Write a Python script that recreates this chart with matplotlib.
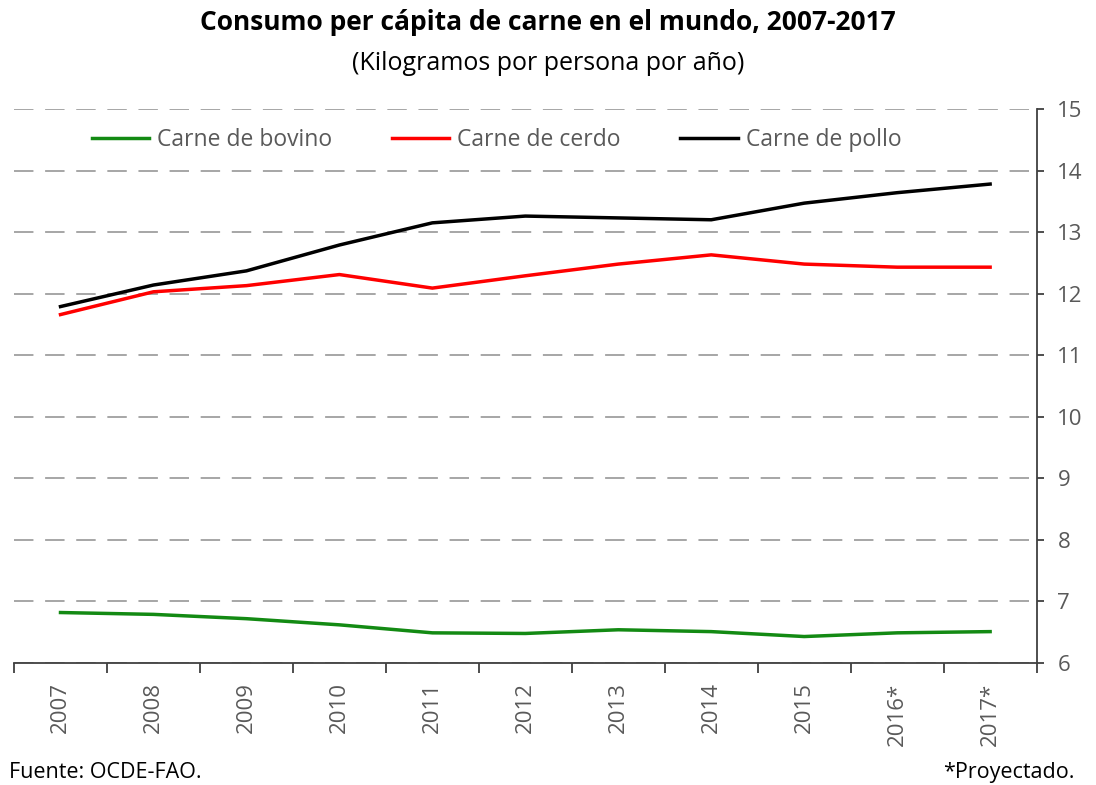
import matplotlib.pyplot as plt
import numpy as np

plt.rcParams['font.family'] = ['Open Sans', 'DejaVu Sans']

years = ['2007', '2008', '2009', '2010', '2011', '2012', '2013', '2014', '2015', '2016*', '2017*']
bovino = [6.82, 6.79, 6.72, 6.62, 6.49, 6.48, 6.54, 6.51, 6.43, 6.49, 6.51]
cerdo = [11.66, 12.03, 12.13, 12.31, 12.09, 12.29, 12.48, 12.63, 12.48, 12.43, 12.43]
pollo = [11.79, 12.14, 12.37, 12.79, 13.15, 13.26, 13.23, 13.20, 13.47, 13.64, 13.78]

TEXT_GRAY = '#595959'
GRID_GRAY = '#a6a6a6'

fig = plt.figure(figsize=(10.96, 7.85), dpi=100, facecolor='white')
ax = fig.add_axes([0.0128, 0.1554, 0.933, 0.7058])

x = np.arange(len(years))
ax.plot(x, bovino, color='#138a13', linewidth=2.5, label='Carne de bovino')
ax.plot(x, cerdo, color='#ff0000', linewidth=2.5, label='Carne de cerdo')
ax.plot(x, pollo, color='black', linewidth=2.5, label='Carne de pollo')

ax.set_xlim(-0.5, len(years) - 0.5)
ax.set_ylim(6, 15)
ax.set_yticks(range(6, 16))
ax.yaxis.tick_right()
ax.grid(axis='y', color=GRID_GRAY, linestyle=(0, (10, 6)), linewidth=1.4)
ax.set_axisbelow(True)

# category labels at centres, tick marks at boundaries
ax.set_xticks(x)
ax.set_xticklabels(years, rotation=90)
ax.set_xticks(np.arange(-0.5, len(years)), minor=True)
ax.tick_params(axis='x', which='major', length=0, pad=14, labelsize=16, labelcolor=TEXT_GRAY)
ax.tick_params(axis='x', which='minor', length=7, width=1.3, direction='out', color='#404040')
ax.tick_params(axis='y', which='major', length=5, width=1.3, direction='out', color='#404040',
               pad=10, labelsize=16, labelcolor=TEXT_GRAY)

for side in ['left', 'top']:
    ax.spines[side].set_visible(False)
for side in ['right', 'bottom']:
    ax.spines[side].set_color('#404040')
    ax.spines[side].set_linewidth(1.3)

leg = ax.legend(loc='center', bbox_to_anchor=(0.472, 0.944), ncol=3, frameon=False,
                fontsize=16.5, handlelength=2.5, handletextpad=0.35, columnspacing=2.6)
for t in leg.get_texts():
    t.set_color(TEXT_GRAY)

fig.text(0.5, 0.971, 'Consumo per cápita de carne en el mundo, 2007-2017',
         ha='center', va='center', fontsize=19, fontweight='bold')
fig.text(0.5, 0.919, '(Kilogramos por persona por año)',
         ha='center', va='center', fontsize=18)
fig.text(0.008, 0.016, 'Fuente: OCDE-FAO.', ha='left', va='center', fontsize=15.5)
fig.text(0.98, 0.016, '*Proyectado.', ha='right', va='center', fontsize=15.5)

fig.savefig('out.png', dpi=100, facecolor='white')
